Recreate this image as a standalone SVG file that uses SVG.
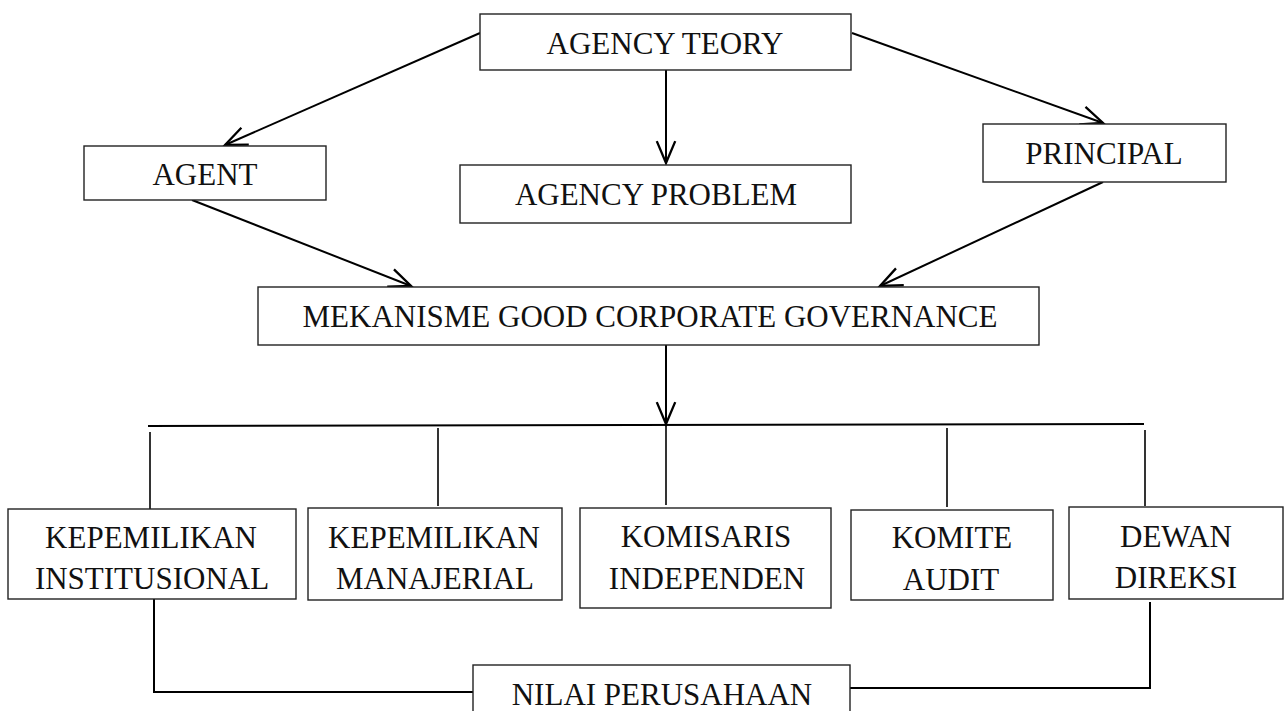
<svg xmlns="http://www.w3.org/2000/svg" width="1285" height="711" viewBox="0 0 1285 711">
<style>
.box{fill:#fff;stroke:#222;stroke-width:1.4}
.t{font-family:"Liberation Serif","Times New Roman",serif;font-size:31px;fill:#111;text-anchor:middle}
.c{fill:none;stroke:#000;stroke-width:2}
.c2{fill:none;stroke:#000;stroke-width:1.6}
</style>
<defs>
<marker id="ah" markerUnits="userSpaceOnUse" markerWidth="30" markerHeight="30" viewBox="-22 -12 26 24" refX="0" refY="0" orient="auto">
<path d="M-19,-8 L0,0 L-19,8" fill="none" stroke="#000" stroke-width="2"/>
</marker>
</defs>
<rect width="1285" height="711" fill="#fff"/>
<g id="connectors">
<line class="c" x1="480" y1="33" x2="225" y2="145" marker-end="url(#ah)"/>
<line class="c" x1="666" y1="70" x2="666" y2="163" marker-end="url(#ah)"/>
<line class="c" x1="852" y1="33" x2="1103" y2="123" marker-end="url(#ah)"/>
<line class="c" x1="192" y1="200" x2="411" y2="286" marker-end="url(#ah)"/>
<line class="c" x1="1103" y1="182" x2="880" y2="286" marker-end="url(#ah)"/>
<line class="c" x1="666" y1="345" x2="666" y2="424" marker-end="url(#ah)"/>
<line class="c" x1="148" y1="426" x2="1144" y2="424"/>
<line class="c2" x1="150" y1="432" x2="150" y2="510"/>
<line class="c2" x1="438" y1="428" x2="438" y2="506"/>
<line class="c2" x1="666" y1="425" x2="666" y2="505"/>
<line class="c2" x1="947" y1="428" x2="947" y2="507"/>
<line class="c2" x1="1145" y1="430" x2="1145" y2="506"/>
<polyline class="c" points="154,599 154,692 473,692"/>
<polyline class="c" points="850,688 1150,688 1150,602"/>
</g>
<g id="agency-teory"><rect class="box" x="480" y="14" width="371" height="56"/><text class="t" x="665" y="54">AGENCY TEORY</text></g>
<g id="agent"><rect class="box" x="84" y="146" width="242" height="54"/><text class="t" x="205" y="185">AGENT</text></g>
<g id="agency-problem"><rect class="box" x="460" y="165" width="391" height="58"/><text class="t" x="656" y="205">AGENCY PROBLEM</text></g>
<g id="principal"><rect class="box" x="983" y="124" width="243" height="58"/><text class="t" x="1104" y="164">PRINCIPAL</text></g>
<g id="mekanisme"><rect class="box" x="258" y="287" width="781" height="58"/><text class="t" x="650" y="327">MEKANISME GOOD CORPORATE GOVERNANCE</text></g>
<g id="kepemilikan-institusional"><rect class="box" x="8" y="509" width="288" height="90"/><text class="t" x="151" y="548">KEPEMILIKAN</text><text class="t" x="152" y="589">INSTITUSIONAL</text></g>
<g id="kepemilikan-manajerial"><rect class="box" x="308" y="508" width="254" height="92"/><text class="t" x="434" y="548">KEPEMILIKAN</text><text class="t" x="435" y="589">MANAJERIAL</text></g>
<g id="komisaris-independen"><rect class="box" x="580" y="508" width="251" height="100"/><text class="t" x="706" y="547">KOMISARIS</text><text class="t" x="707" y="589">INDEPENDEN</text></g>
<g id="komite-audit"><rect class="box" x="851" y="510" width="202" height="90"/><text class="t" x="952" y="548">KOMITE</text><text class="t" x="951" y="590">AUDIT</text></g>
<g id="dewan-direksi"><rect class="box" x="1069" y="507" width="214" height="92"/><text class="t" x="1176" y="547">DEWAN</text><text class="t" x="1176" y="588">DIREKSI</text></g>
<g id="nilai-perusahaan"><rect class="box" x="473" y="665" width="377" height="60"/><text class="t" x="662" y="705">NILAI PERUSAHAAN</text></g>
</svg>
